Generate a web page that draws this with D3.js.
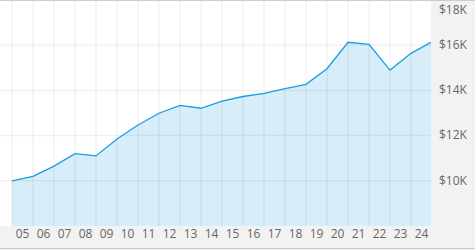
<!DOCTYPE html>
<html>
<head>
<meta charset="utf-8">
<script src="https://cdn.jsdelivr.net/npm/d3@7"></script>
<style>
  html, body { margin: 0; padding: 0; background: #fff; }
  svg { display: block; }
  .tick text { font-family: "Segoe UI", "Open Sans", sans-serif; font-size: 12px; fill: #666; }
  .domain { display: none; }
</style>
</head>
<body>
<div id="chart"></div>
<script>
const width = 475;
const height = 250;
const plotRight = 431;
const plotBottom = 226;

// year labels (one band per year)
const years = ["05", "06", "07", "08", "09", "10", "11", "12", "13", "14",
  "15", "16", "17", "18", "19", "20", "21", "22", "23", "24"];

// growth of $10K, value at each year boundary (start of 05 ... end of 24)
const values = [10000, 10200, 10650, 11200, 11100, 11850, 12470, 12990, 13340, 13210,
  13530, 13730, 13870, 14080, 14270, 14960, 16130, 16040, 14900, 15640, 16150];

const yTicks = [10000, 12000, 14000, 16000, 18000];

const svg = d3.select("#chart").append("svg")
  .attr("width", width)
  .attr("height", height);

// panels
svg.append("rect").attr("x", 0).attr("y", 0).attr("width", width).attr("height", height).attr("fill", "#f2f2f2");
svg.append("rect").attr("x", 0).attr("y", 0).attr("width", plotRight).attr("height", plotBottom).attr("fill", "#fff");

const x = d3.scaleBand().domain(years).range([12, 12 + 21 * years.length]);
const y = d3.scaleLinear().domain([8000, 18000]).range([plotBottom, 0]);

const px = (i) => i < years.length ? x(years[i]) : x(years[years.length - 1]) + x.bandwidth();

svg.append("clipPath").attr("id", "plot")
  .append("rect").attr("x", 0).attr("y", 0).attr("width", plotRight).attr("height", plotBottom);

const plot = svg.append("g").attr("clip-path", "url(#plot)");

const area = d3.area()
  .x((d, i) => px(i))
  .y0(plotBottom)
  .y1((d) => y(d));

const line = d3.line()
  .x((d, i) => px(i))
  .y((d) => y(d));

plot.append("path")
  .datum(values)
  .attr("d", area)
  .attr("fill", "#d7edf9");

// grid over the fill
plot.append("g")
  .selectAll("line.v")
  .data(years)
  .join("line")
  .attr("x1", (d) => x(d)).attr("x2", (d) => x(d))
  .attr("y1", 0).attr("y2", plotBottom)
  .attr("stroke", "rgba(0,0,0,0.05)")
  .attr("stroke-width", 1.5);

plot.append("g")
  .selectAll("line.h")
  .data(yTicks)
  .join("line")
  .attr("x1", 0).attr("x2", plotRight)
  .attr("y1", (d) => y(d)).attr("y2", (d) => y(d))
  .attr("stroke", "rgba(0,0,0,0.05)")
  .attr("stroke-width", 1.5);

plot.append("path")
  .datum(values)
  .attr("d", line)
  .attr("fill", "none")
  .attr("stroke", "#1a9de0")
  .attr("stroke-width", 1.3);

// borders
svg.append("line").attr("x1", 0).attr("x2", width).attr("y1", 0.5).attr("y2", 0.5).attr("stroke", "#ccc");
svg.append("line").attr("x1", 0).attr("x2", width).attr("y1", 248.5).attr("y2", 248.5).attr("stroke", "#ccc");

// axes
svg.append("g")
  .attr("transform", `translate(0,${plotBottom})`)
  .call(d3.axisBottom(x).tickSize(0).tickPadding(3));

const yAxis = svg.append("g")
  .attr("transform", `translate(${plotRight},0)`)
  .call(d3.axisRight(y).tickValues(yTicks).tickSize(0).tickPadding(8)
    .tickFormat((d) => "$" + d / 1000 + "K"));

// keep the top label inside the chart
yAxis.selectAll(".tick")
  .attr("transform", (d) => `translate(0,${Math.max(y(d), 10)})`);
</script>
</body>
</html>
